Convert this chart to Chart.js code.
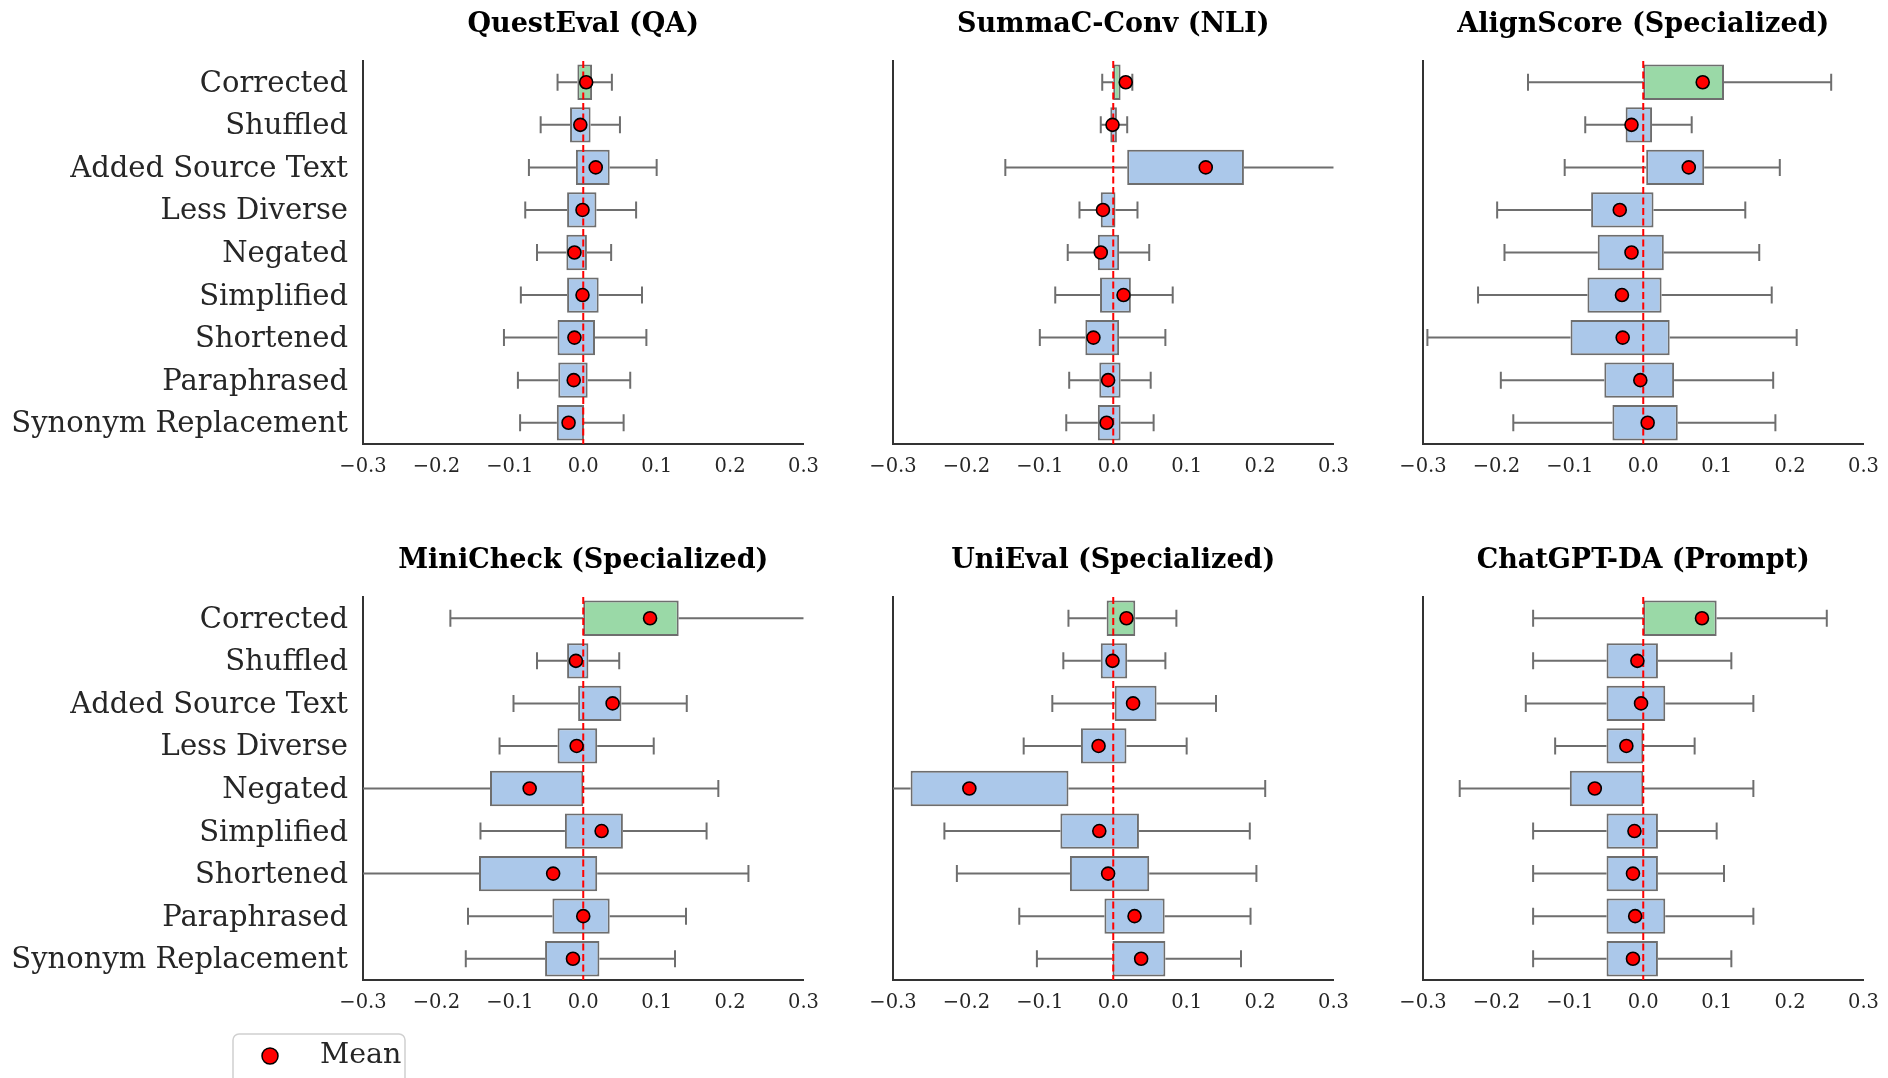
<!DOCTYPE html>
<html>
<head>
<meta charset="utf-8">
<script src="https://cdn.jsdelivr.net/npm/chart.js@4.4.0/dist/chart.umd.min.js"></script>
<style>
  html, body { margin: 0; padding: 0; background: #ffffff; }
  body { width: 1888px; height: 1078px; position: relative; overflow: hidden; }
  .panel { position: absolute; }
</style>
</head>
<body>
<script>
// Perturbation types, top to bottom
const categories = ['Corrected', 'Shuffled', 'Added Source Text', 'Less Diverse', 'Negated',
                    'Simplified', 'Shortened', 'Paraphrased', 'Synonym Replacement'];
const xTickValues = [-0.3, -0.2, -0.1, 0.0, 0.1, 0.2, 0.3];
const panelTitles = ['QuestEval (QA)', 'SummaC-Conv (NLI)', 'AlignScore (Specialized)',
                     'MiniCheck (Specialized)', 'UniEval (Specialized)', 'ChatGPT-DA (Prompt)'];

// QuestEval (QA): whisker low, Q1, Q3, whisker high, mean
const questevalLow  = [-0.035, -0.058, -0.074, -0.079, -0.063, -0.085, -0.108, -0.089, -0.086];
const questevalQ1   = [-0.008, -0.018, -0.010, -0.022, -0.023, -0.022, -0.035, -0.034, -0.036];
const questevalQ3   = [ 0.012,  0.010,  0.036,  0.018,  0.005,  0.021,  0.016,  0.006,  0.001];
const questevalHigh = [ 0.039,  0.050,  0.100,  0.072,  0.038,  0.080,  0.086,  0.064,  0.055];
const questevalMean = [ 0.004, -0.004,  0.017, -0.001, -0.012, -0.001, -0.012, -0.013, -0.020];

// SummaC-Conv (NLI)
const summacLow  = [-0.015, -0.017, -0.147, -0.046, -0.062, -0.079, -0.100, -0.060, -0.064];
const summacQ1   = [ 0.000, -0.004,  0.019, -0.017, -0.021, -0.018, -0.038, -0.019, -0.021];
const summacQ3   = [ 0.010,  0.005,  0.178,  0.003,  0.008,  0.024,  0.008,  0.010,  0.010];
const summacHigh = [ 0.026,  0.019,  0.330,  0.033,  0.049,  0.081,  0.071,  0.051,  0.055];
const summacMean = [ 0.017, -0.001,  0.126, -0.014, -0.017,  0.014, -0.027, -0.007, -0.009];

// AlignScore (Specialized)
const alignLow  = [-0.157, -0.079, -0.107, -0.199, -0.189, -0.225, -0.294, -0.194, -0.177];
const alignQ1   = [ 0.000, -0.024,  0.004, -0.071, -0.062, -0.076, -0.099, -0.053, -0.042];
const alignQ3   = [ 0.110,  0.012,  0.083,  0.014,  0.028,  0.025,  0.036,  0.042,  0.047];
const alignHigh = [ 0.256,  0.066,  0.186,  0.139,  0.158,  0.175,  0.209,  0.177,  0.180];
const alignMean = [ 0.081, -0.016,  0.062, -0.032, -0.016, -0.029, -0.028, -0.004,  0.006];

// MiniCheck (Specialized)
const minicheckLow  = [-0.181, -0.063, -0.095, -0.114, -0.330, -0.140, -0.330, -0.157, -0.160];
const minicheckQ1   = [ 0.000, -0.022, -0.007, -0.035, -0.127, -0.025, -0.142, -0.042, -0.052];
const minicheckQ3   = [ 0.130,  0.007,  0.052,  0.019,  0.000,  0.054,  0.019,  0.036,  0.022];
const minicheckHigh = [ 0.330,  0.049,  0.141,  0.096,  0.184,  0.168,  0.225,  0.140,  0.125];
const minicheckMean = [ 0.091, -0.010,  0.040, -0.009, -0.073,  0.025, -0.041,  0.000, -0.014];

// UniEval (Specialized)
const unievalLow  = [-0.061, -0.068, -0.083, -0.122, -0.330, -0.230, -0.213, -0.128, -0.104];
const unievalQ1   = [-0.009, -0.017,  0.002, -0.044, -0.276, -0.072, -0.059, -0.012, -0.001];
const unievalQ3   = [ 0.030,  0.019,  0.059,  0.018, -0.061,  0.035,  0.049,  0.070,  0.071];
const unievalHigh = [ 0.086,  0.071,  0.140,  0.100,  0.207,  0.186,  0.195,  0.187,  0.174];
const unievalMean = [ 0.018, -0.001,  0.027, -0.020, -0.196, -0.019, -0.007,  0.029,  0.038];

// ChatGPT-DA (Prompt)
const chatgptLow  = [-0.150, -0.150, -0.160, -0.120, -0.250, -0.150, -0.150, -0.150, -0.150];
const chatgptQ1   = [ 0.000, -0.050, -0.050, -0.050, -0.100, -0.050, -0.050, -0.050, -0.050];
const chatgptQ3   = [ 0.100,  0.020,  0.030,  0.000,  0.000,  0.020,  0.020,  0.030,  0.020];
const chatgptHigh = [ 0.250,  0.120,  0.150,  0.070,  0.150,  0.100,  0.110,  0.150,  0.120];
const chatgptMean = [ 0.080, -0.008, -0.003, -0.023, -0.066, -0.012, -0.014, -0.011, -0.014];

const panelData = [
  [questevalLow, questevalQ1, questevalQ3, questevalHigh, questevalMean],
  [summacLow, summacQ1, summacQ3, summacHigh, summacMean],
  [alignLow, alignQ1, alignQ3, alignHigh, alignMean],
  [minicheckLow, minicheckQ1, minicheckQ3, minicheckHigh, minicheckMean],
  [unievalLow, unievalQ1, unievalQ3, unievalHigh, unievalMean],
  [chatgptLow, chatgptQ1, chatgptQ3, chatgptHigh, chatgptMean]
];

// ---- styling ----
const SERIF = '"DejaVu Serif", serif';
const BOX_BLUE = '#abc8ea';
const BOX_GREEN = '#9ad9a7';
const EDGE_GRAY = '#6e6e6e';
const SPINE = '#333333';
const TEXT = '#262626';

const plotLefts = [363, 893, 1423];
const plotTops = [61, 597];
const plotW = 443, plotH = 383;
const titleH = 60;

function fmtTick(v) {
  const s = Math.abs(v).toFixed(1);
  return (v < -1e-9 ? '\u2212' : '') + s;
}

// Whiskers and caps under the boxes
const whiskerPlugin = {
  id: 'whiskers',
  beforeDatasetsDraw(chart, args, opts) {
    const { ctx, chartArea, scales } = chart;
    const x = scales.x, y = scales.y;
    const band = y.getPixelForValue(1) - y.getPixelForValue(0);
    const capHalf = Math.abs(band) * 0.2;
    ctx.save();
    ctx.beginPath();
    ctx.rect(chartArea.left, chartArea.top, chartArea.right - chartArea.left, chartArea.bottom - chartArea.top);
    ctx.clip();
    ctx.strokeStyle = EDGE_GRAY;
    ctx.lineWidth = 2;
    opts.low.forEach((lo, i) => {
      const yc = y.getPixelForValue(i);
      const xl = x.getPixelForValue(lo), x1 = x.getPixelForValue(opts.q1[i]);
      const x3 = x.getPixelForValue(opts.q3[i]), xh = x.getPixelForValue(opts.high[i]);
      ctx.beginPath();
      ctx.moveTo(xl, yc); ctx.lineTo(x1, yc);
      ctx.moveTo(x3, yc); ctx.lineTo(xh, yc);
      ctx.moveTo(xl, yc - capHalf); ctx.lineTo(xl, yc + capHalf);
      ctx.moveTo(xh, yc - capHalf); ctx.lineTo(xh, yc + capHalf);
      ctx.stroke();
    });
    ctx.restore();
  },
  // dashed zero reference, drawn just before the mean markers
  beforeDatasetDraw(chart, args) {
    if (args.meta.type !== 'line') return;
    const { ctx, chartArea, scales } = chart;
    const x0 = scales.x.getPixelForValue(0);
    ctx.save();
    ctx.strokeStyle = '#ff0000';
    ctx.lineWidth = 2;
    ctx.setLineDash([7, 3.5]);
    ctx.beginPath();
    ctx.moveTo(x0, chartArea.top);
    ctx.lineTo(x0, chartArea.bottom);
    ctx.stroke();
    ctx.restore();
  }
};

// Framed legend box below the lower-left panel
const meanLegendPlugin = {
  id: 'meanLegend',
  afterDraw(chart, args, opts) {
    if (!opts.show) return;
    const ds = chart.data.datasets.find(d => d.type === 'line');
    const ctx = chart.ctx;
    const left = opts.x, top = opts.y, w = opts.w, h = opts.h, r = 6;
    ctx.save();
    ctx.fillStyle = 'rgba(255,255,255,0.8)';
    ctx.strokeStyle = '#d0d0d0';
    ctx.lineWidth = 1.5;
    ctx.beginPath();
    ctx.moveTo(left + r, top);
    ctx.lineTo(left + w - r, top);
    ctx.arcTo(left + w, top, left + w, top + r, r);
    ctx.lineTo(left + w, top + h - r);
    ctx.arcTo(left + w, top + h, left + w - r, top + h, r);
    ctx.lineTo(left + r, top + h);
    ctx.arcTo(left, top + h, left, top + h - r, r);
    ctx.lineTo(left, top + r);
    ctx.arcTo(left, top, left + r, top, r);
    ctx.closePath();
    ctx.fill();
    ctx.stroke();
    const cy = opts.cy;
    ctx.beginPath();
    ctx.arc(opts.mx, cy, 8, 0, Math.PI * 2);
    ctx.fillStyle = ds.pointBackgroundColor;
    ctx.fill();
    ctx.lineWidth = 1.5;
    ctx.strokeStyle = ds.pointBorderColor;
    ctx.stroke();
    ctx.fillStyle = TEXT;
    ctx.font = '28.5px ' + SERIF;
    ctx.textAlign = 'left';
    ctx.textBaseline = 'middle';
    ctx.fillText(ds.label, opts.tx, cy);
    ctx.restore();
  }
};

panelTitles.forEach((title, p) => {
  const row = Math.floor(p / 3), col = p % 3;
  const [low, q1, q3, high, mean] = panelData[p];
  const axisW = col === 0 ? 363 : 40;
  const rightPad = 24;
  const isLegendPanel = row === 1 && col === 0;
  const xAxisH = isLegendPanel ? (1078 - (plotTops[row] + plotH)) : 45;
  const cw = axisW + plotW + rightPad;
  const chH = titleH + plotH + xAxisH;
  const left = plotLefts[col] - axisW;
  const top = plotTops[row] - titleH;

  const wrap = document.createElement('div');
  wrap.className = 'panel';
  wrap.style.left = left + 'px';
  wrap.style.top = top + 'px';
  wrap.style.width = cw + 'px';
  wrap.style.height = chH + 'px';
  const canvas = document.createElement('canvas');
  canvas.width = cw; canvas.height = chH;
  canvas.style.width = cw + 'px'; canvas.style.height = chH + 'px';
  wrap.appendChild(canvas);
  document.body.appendChild(wrap);

  new Chart(canvas, {
    type: 'bar',
    data: {
      labels: categories,
      datasets: [
        {
          type: 'line',
          label: 'Mean',
          data: mean,
          showLine: false,
          pointRadius: 6.5,
          pointHoverRadius: 6.5,
          pointBackgroundColor: '#ff0000',
          pointBorderColor: '#000000',
          pointBorderWidth: 1.6,
          order: 0
        },
        {
          type: 'bar',
          label: 'IQR',
          data: q1.map((v, i) => [v, q3[i]]),
          backgroundColor: categories.map((c, i) => i === 0 ? BOX_GREEN : BOX_BLUE),
          borderColor: EDGE_GRAY,
          borderWidth: 2,
          borderSkipped: false,
          barPercentage: 0.83,
          categoryPercentage: 1.0,
          order: 1
        }
      ]
    },
    options: {
      indexAxis: 'y',
      responsive: false,
      animation: false,
      devicePixelRatio: 1,
      layout: { padding: { left: 0, right: rightPad, top: 0, bottom: 0 } },
      scales: {
        x: {
          type: 'linear',
          min: -0.3, max: 0.3,
          afterBuildTicks(scale) { scale.ticks = xTickValues.map(v => ({ value: v })); },
          afterFit(scale) { scale.height = xAxisH; },
          grid: { display: false, drawTicks: false },
          border: { display: true, color: SPINE, width: 2 },
          ticks: {
            color: TEXT,
            padding: 11,
            maxRotation: 0,
            autoSkip: false,
            font: { family: SERIF, size: 19.5 },
            callback: (v) => fmtTick(v)
          }
        },
        y: {
          type: 'category',
          offset: true,
          afterFit(scale) { scale.width = axisW; },
          grid: { display: false, drawTicks: false },
          border: { display: true, color: SPINE, width: 2 },
          ticks: {
            display: col === 0,
            color: TEXT,
            padding: 15,
            labelOffset: 2,
            autoSkip: false,
            font: { family: SERIF, size: 29 }
          }
        }
      },
      plugins: {
        legend: { display: false },
        tooltip: { enabled: false },
        title: {
          display: true,
          text: title,
          fullSize: false,
          color: '#000000',
          font: { family: SERIF, size: 27, weight: 'bold', lineHeight: 1.2 },
          padding: { top: 8, bottom: 19.6 }
        },
        whiskers: { low, q1, q3, high },
        meanLegend: isLegendPanel
          ? { show: true, x: 233 - left, y: 1034 - top, w: 172, h: 60, mx: 270 - left, tx: 320 - left, cy: 1056 - top }
          : { show: false }
      }
    },
    plugins: [whiskerPlugin, meanLegendPlugin]
  });
});
</script>
</body>
</html>
